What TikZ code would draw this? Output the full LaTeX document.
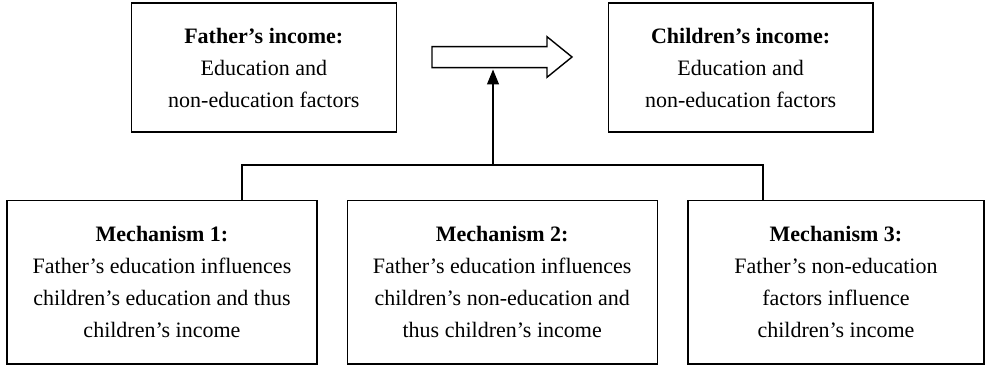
\documentclass[tikz,border=0pt]{standalone}
\usepackage{fontspec}
\setmainfont{Liberation Serif}
\usetikzlibrary{arrows.meta}
\tikzstyle{income} = [rectangle, minimum width=132.4pt, minimum height=64.4pt, align=center, draw=black, line width=0.7pt, font=\fontsize{11}{16}\selectfont]
\tikzstyle{mechanism} = [rectangle, minimum width=155pt, minimum height=81.8pt, align=center, draw=black, line width=0.7pt, font=\fontsize{11}{16}\selectfont]
\tikzstyle{link} = [line width=0.6pt]
\tikzstyle{arrow} = [line width=0.6pt,-{Triangle[width=6pt,length=7.5pt]}]

\begin{document}
\begin{tikzpicture}[x=0.5pt, y=-0.5pt]
        \useasboundingbox (0,0) rectangle (986,367);
        \node (father) [income] at (263.8,67.5) {\textbf{Father's income:}\\Education and\\non-education factors};
        \node (children) [income, right of=father, node distance=238.4pt] {\textbf{Children's income:}\\Education and\\non-education factors};
        \node (mech1) [mechanism] at (162,282.3) {\textbf{Mechanism 1:}\\Father's education influences\\children's education and thus\\children's income};
        \node (mech2) [mechanism, right of=mech1, node distance=170.1pt] {\textbf{Mechanism 2:}\\Father's education influences\\children's non-education and\\thus children's income};
        \node (mech3) [mechanism, minimum width=148pt, right of=mech2, node distance=166.9pt] {\textbf{Mechanism 3:}\\Father's non-education\\factors influence\\children's income};
        % transmission arrow
        \draw [line width=0.7pt] (432,46.7) -- (547,46.7) -- (547,36.7) -- (572,57) -- (547,77.3) -- (547,67.7) -- (432,67.7) -- cycle;
        \coordinate (shaft) at (493,69.5);
        \coordinate (jleft) at (242,165);
        \coordinate (jmid) at (493,165);
        \coordinate (jright) at (763,165);
        \draw [link] (jleft |- mech1.north) -- (jleft) -- (jright) -- (jright |- mech3.north);
        \draw [arrow] (jmid) -- (shaft);
    \end{tikzpicture}
\end{document}
